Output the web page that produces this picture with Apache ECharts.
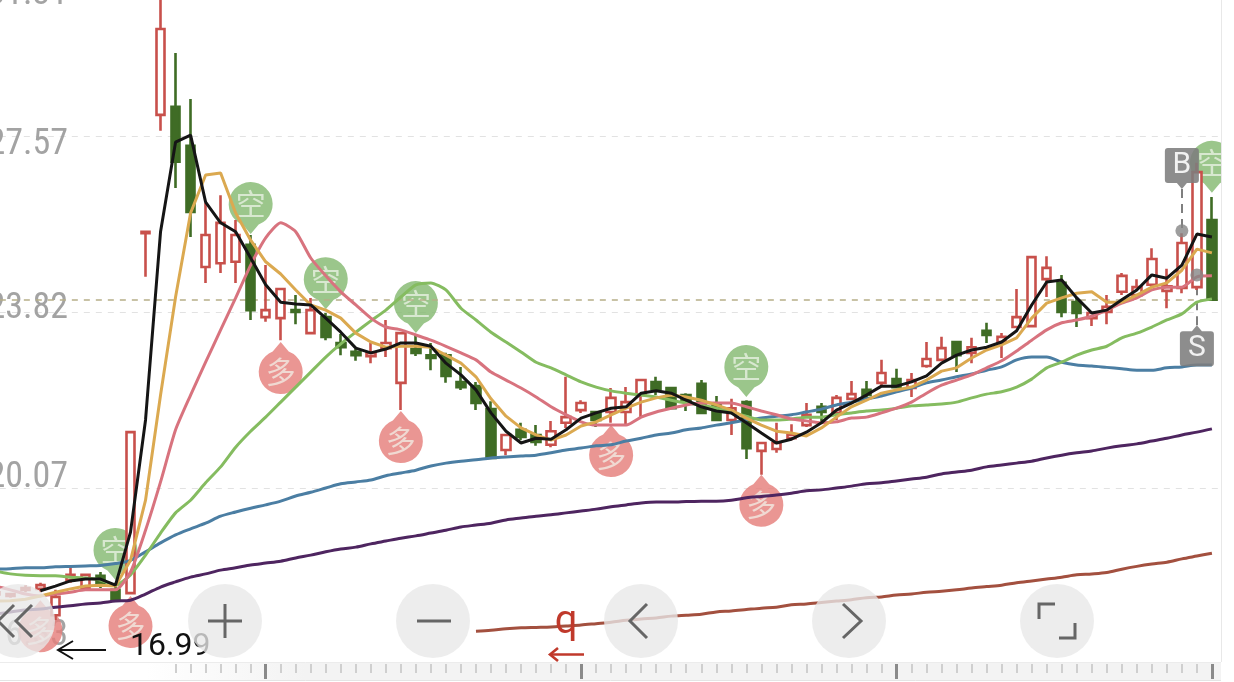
<!DOCTYPE html>
<html><head><meta charset="utf-8">
<style>html,body{margin:0;padding:0;background:#fff}#c{width:1234px;height:682px}</style>
<script src="https://cdn.jsdelivr.net/npm/echarts@6/dist/echarts.min.js"></script></head>
<body><div id="c"></div>
<script>
const opens=[17.80,17.77,17.90,17.92,17.36,18.11,17.94,18.20,17.90,17.83,25.50,28.02,28.19,27.36,24.78,24.86,24.89,25.25,23.71,23.69,23.86,23.37,23.71,23.16,22.97,22.88,23.05,22.31,23.03,22.90,22.90,22.33,22.24,21.75,20.88,21.31,21.20,20.99,21.46,21.73,21.69,21.69,21.69,22.05,22.33,22.20,22.05,22.29,21.84,21.52,21.90,20.86,20.90,21.13,21.41,21.80,21.67,21.97,22.16,22.31,22.39,22.20,22.67,22.80,23.18,22.95,23.42,23.18,23.50,23.52,24.52,24.44,24.03,23.69,23.82,24.25,24.18,24.40,24.27,24.33,24.35,25.78];
const closes=[17.85,17.81,17.94,18.00,17.75,18.22,18.22,18.05,17.68,21.26,25.53,29.85,27.02,25.95,25.46,25.72,25.46,23.86,23.86,24.31,23.82,23.86,23.29,23.07,22.90,22.95,23.16,23.37,22.95,22.84,22.46,22.22,21.88,20.71,21.20,21.16,21.05,21.28,21.58,21.88,21.52,21.99,21.90,22.37,22.18,21.77,21.94,21.67,21.52,21.77,20.92,21.03,21.03,21.20,21.63,21.69,21.99,22.07,22.05,22.52,22.22,22.37,22.82,23.05,22.90,23.07,23.33,23.29,23.71,24.99,24.76,23.82,23.80,23.80,23.93,24.59,24.35,24.95,24.37,25.29,26.80,24.08];
const lows=[17.70,17.73,17.85,17.85,17.26,18.05,17.94,17.94,17.66,17.80,24.57,27.68,26.46,25.42,24.44,24.65,24.44,23.65,23.61,23.22,23.56,23.35,23.22,22.90,22.78,22.73,22.86,21.73,22.88,22.58,22.31,22.16,21.73,20.69,20.77,21.09,20.97,20.94,21.35,21.67,21.37,21.46,21.43,21.58,22.05,21.75,21.71,21.65,21.50,21.20,20.69,20.35,20.82,21.09,21.37,21.48,21.52,21.94,21.94,22.26,22.20,22.01,22.63,22.78,22.54,22.73,23.16,22.84,23.48,23.50,24.14,23.71,23.50,23.52,23.56,24.18,24.16,24.35,23.90,24.22,24.29,24.06];
const highs=[17.95,17.83,18.00,18.05,17.90,18.39,18.24,18.28,18.05,21.28,25.55,30.57,29.34,28.36,26.14,26.31,25.78,25.46,24.82,24.31,24.18,24.12,23.80,23.35,23.03,23.16,23.65,23.39,23.33,23.16,22.95,22.65,22.33,21.92,21.22,21.46,21.41,21.50,22.44,21.94,21.71,22.20,22.22,22.39,22.44,22.22,22.09,22.37,22.03,21.97,21.94,21.05,21.46,21.43,21.88,21.88,22.05,22.35,22.35,22.80,22.61,22.52,23.18,23.29,23.20,23.27,23.59,23.37,24.31,25.01,25.01,24.61,24.12,23.82,24.18,24.65,24.52,25.18,24.74,25.50,27.00,26.27];

const maBlack=[null,null,null,17.88,17.98,18.09,18.13,18.13,18.00,19.13,21.52,25.53,27.44,27.59,26.16,25.72,25.53,24.97,24.40,24.03,23.99,23.97,23.69,23.39,23.05,22.95,23.03,23.16,23.16,23.09,22.73,22.48,22.16,21.67,21.28,21.03,21.13,21.11,21.31,21.56,21.67,21.77,21.80,22.09,22.14,22.09,21.94,21.80,21.71,21.67,21.46,21.24,21.03,21.11,21.26,21.46,21.73,21.88,22.05,22.24,22.24,22.33,22.46,22.73,22.90,23.01,23.07,23.18,23.42,23.97,24.46,24.50,24.12,23.80,23.86,24.08,24.29,24.61,24.54,24.82,25.48,25.42];
const maOrange=[17.66,17.67,17.70,17.77,17.85,17.92,17.98,18.00,17.98,18.53,19.81,22.05,24.14,25.93,26.74,26.78,25.93,25.35,24.89,24.63,24.29,23.97,23.86,23.69,23.37,23.18,23.07,23.09,23.09,23.07,22.90,22.73,22.44,21.97,21.60,21.35,21.20,21.09,21.20,21.39,21.48,21.63,21.77,21.90,21.99,22.05,22.01,21.94,21.84,21.73,21.56,21.41,21.28,21.24,21.18,21.35,21.58,21.80,21.94,22.09,22.16,22.22,22.37,22.56,22.63,22.84,23.01,23.12,23.27,23.69,24.01,24.12,24.22,24.25,24.03,24.03,24.18,24.35,24.44,24.71,25.16,25.08];
const maPink=[17.98,17.90,17.81,17.77,17.81,17.85,17.90,17.90,17.90,18.28,19.17,20.20,21.31,22.05,22.75,23.44,24.12,24.82,25.40,25.72,25.53,24.97,24.59,24.25,23.97,23.69,23.50,23.44,23.33,23.22,23.09,22.95,22.80,22.54,22.37,22.20,22.01,21.80,21.63,21.48,21.41,21.41,21.41,21.58,21.69,21.77,21.84,21.88,21.88,21.88,21.80,21.71,21.63,21.54,21.50,21.46,21.48,21.56,21.58,21.67,21.77,21.90,22.09,22.26,22.37,22.48,22.63,22.78,22.99,23.22,23.44,23.59,23.65,23.73,23.86,24.01,24.12,24.29,24.35,24.35,24.57,24.59];
const maGreen=[18.30,18.24,18.21,18.20,18.20,18.17,18.15,18.11,18.00,18.22,18.64,19.11,19.54,19.81,20.18,20.52,20.94,21.28,21.58,21.90,22.22,22.54,22.86,23.14,23.39,23.63,23.86,24.14,24.40,24.44,24.29,23.90,23.65,23.39,23.18,22.97,22.75,22.63,22.48,22.33,22.22,22.14,22.09,22.05,22.01,21.94,21.88,21.84,21.77,21.69,21.60,21.52,21.52,21.54,21.58,21.58,21.63,21.67,21.71,21.73,21.77,21.82,21.84,21.86,21.90,21.99,22.07,22.12,22.22,22.39,22.63,22.75,22.90,23.01,23.09,23.27,23.37,23.50,23.65,23.78,24.03,24.10];
const maBlue=[18.34,18.35,18.37,18.37,18.39,18.40,18.41,18.42,18.46,18.53,18.71,18.90,19.07,19.20,19.32,19.47,19.56,19.64,19.71,19.79,19.90,19.98,20.07,20.16,20.20,20.24,20.33,20.39,20.45,20.54,20.60,20.64,20.67,20.71,20.73,20.75,20.77,20.82,20.88,20.92,20.97,20.99,21.07,21.13,21.20,21.24,21.31,21.35,21.41,21.46,21.52,21.56,21.60,21.63,21.69,21.75,21.84,21.90,21.97,22.03,22.12,22.20,22.31,22.37,22.44,22.50,22.58,22.65,22.80,22.86,22.86,22.75,22.69,22.67,22.64,22.61,22.58,22.58,22.63,22.65,22.69,22.69];
const maPurple=[17.38,17.43,17.47,17.49,17.53,17.56,17.60,17.62,17.66,17.68,17.81,17.96,18.07,18.17,18.24,18.32,18.37,18.43,18.47,18.51,18.58,18.64,18.71,18.77,18.81,18.88,18.94,19.00,19.05,19.11,19.17,19.24,19.28,19.32,19.39,19.43,19.47,19.50,19.54,19.58,19.62,19.67,19.71,19.75,19.77,19.77,19.78,19.79,19.79,19.81,19.86,19.89,19.92,19.96,20.01,20.03,20.07,20.11,20.16,20.18,20.22,20.26,20.30,20.37,20.41,20.45,20.52,20.56,20.60,20.64,20.71,20.77,20.82,20.86,20.92,20.97,21.01,21.07,21.13,21.20,21.26,21.33];
const maBrownVisible=[17.02,17.04,17.07,17.09,17.10,17.11,17.13,17.15,17.18,17.21,17.25,17.28,17.30,17.34,17.36,17.38,17.43,17.45,17.48,17.51,17.53,17.58,17.60,17.63,17.66,17.69,17.73,17.75,17.79,17.81,17.85,17.87,17.90,17.94,17.97,18.00,18.05,18.09,18.13,18.17,18.22,18.24,18.27,18.34,18.40,18.45,18.49,18.56,18.62,18.68];

const yTickLabels=['16.33','20.07','23.82','27.57','31.31'];
const lastPrice=24.08;
const kongIndex=[8,17,22,28,50,81];
const kongPrice=[18.11,25.48,23.88,23.37,22.01,26.36];
const duoIndex=[3,9,19,27,41,51];
const duoPrice=[17.68,17.77,23.18,21.71,21.41,20.35];
const buyPoint=[79,25.55,26.44];
const sellPoint=[80,24.61,23.54];

const N=opens.length;
const categories=opens.map((_,i)=>String(i));
const maBrown=Array(N-maBrownVisible.length).fill(null).concat(maBrownVisible);
const candleData=opens.map((o,i)=>[o,closes[i],lows[i],highs[i]]);

const pinDown='path://M-8 20.5A22 22 0 1 1 8 20.5L0 30Z';
const pinUp='path://M-8 -20.5A22 22 0 1 0 8 -20.5L0 -30Z';
const flagDown='path://M-14 0H14Q17 0 17 3V32Q17 35 14 35H5L0 41L-5 35H-14Q-17 35 -17 32V3Q-17 0 -14 0Z';
const flagUp='path://M-14 0H14Q17 0 17 -3V-32Q17 -35 14 -35H5L0 -41L-5 -35H-14Q-17 -35 -17 -32V-3Q-17 0 -14 0Z';

const maSeries=[[maBrown,'#a3503f',0.3],[maPurple,'#4e2560',0.3],[maBlue,'#4b7ea3',0.3],[maGreen,'#85bc60',0.2],[maPink,'#d8737e',0.2],[maOrange,'#dba950',0],[maBlack,'#151515',0]].map(([d,c,s],k)=>({
  type:'line',data:d,symbol:'none',silent:true,z:10+k,animation:false,smooth:s,
  lineStyle:{color:c,width:3},connectNulls:false
}));

function pinSeries(idx,price,sym,off,labelOff,color,text){
  return {type:'scatter',z:1,animation:false,silent:true,
    data:idx.map((x,i)=>[x,price[i]]),symbol:sym,symbolSize:[44,52],symbolOffset:[0,off],
    itemStyle:{color:color,opacity:0.82},
    label:{show:true,position:'inside',offset:[0,labelOff],formatter:text,color:'rgba(242,247,238,0.85)',fontSize:30,fontFamily:'"Noto Sans CJK SC"'}};
}
function flagSeries(pt,sym,off,labelOff,text){
  return {type:'scatter',z:30,animation:false,silent:true,
    data:[[pt[0],pt[2]]],symbol:sym,symbolSize:[34,41],symbolOffset:[0,off],
    itemStyle:{color:'#7d7d7d',opacity:0.88},
    label:{show:true,position:'inside',offset:[0,labelOff],formatter:text,color:'#fff',fontSize:30,fontFamily:'Roboto'}};
}

const majorTick=i=>i%21===18;
const btn=(cx)=>({type:'circle',z:100,silent:true,shape:{cx:cx,cy:621,r:37},style:{fill:'rgba(232,232,232,0.78)'}});
const ink=(pts)=>({type:'polyline',z:101,silent:true,shape:{points:pts},style:{stroke:'#666',lineWidth:3,fill:null}});
const blackInk=(pts)=>({type:'polyline',z:60,silent:true,shape:{points:pts},style:{stroke:'#111',lineWidth:2,fill:null}});
const redInk=(pts)=>({type:'polyline',z:60,silent:true,shape:{points:pts},style:{stroke:'#c0392b',lineWidth:2.6,fill:null}});

const labelFont='"Liberation Sans Narrow","Roboto Condensed",Roboto';
const tickStyle=(padding)=>({fontSize:36,color:'#a3a3a3',fontFamily:labelFont,padding:padding});

const option={
  animation:false,backgroundColor:'#fff',
  grid:{left:-12.17,top:-40,width:1231.6,height:704,containLabel:false,outerBoundsMode:'none'},
  xAxis:[
    {type:'category',data:categories,position:'bottom',boundaryGap:true,z:2,axisLine:{show:false},axisLabel:{show:false},splitLine:{show:false},
     axisTick:{show:true,alignWithLabel:true,length:9,interval:i=>i>=12,lineStyle:{color:'#cfcfcf',width:2}}},
    {type:'category',data:categories,position:'bottom',boundaryGap:true,z:3,axisLine:{show:false},axisLabel:{show:false},splitLine:{show:false},
     axisTick:{show:true,alignWithLabel:true,length:15,interval:majorTick,lineStyle:{color:'#8a8a8a',width:3}}}
  ],
  yAxis:{type:'value',min:16.32,max:31.32,interval:3.75,z:0,
    axisLine:{show:false},axisTick:{show:false},
    splitLine:{show:true,showMinLine:false,showMaxLine:false,lineStyle:{color:'#e2e2e2',type:[6,6],width:1}},
    axisLabel:{inside:true,margin:80.2,align:'right',hideOverlap:false,showMinLabel:true,showMaxLabel:true,
      formatter:(v,i)=>'{t'+i+'|'+yTickLabels[i]+'}',
      rich:{t0:tickStyle([0,0,56,0]),t1:tickStyle([0,0,20,0]),t2:tickStyle([0,0,6,0]),t3:tickStyle([18,0,0,0]),t4:tickStyle([70,0,0,0])}}},
  series:[
    pinSeries(kongIndex,kongPrice,pinDown,-26,-4,'#85ba72','空'),
    pinSeries(duoIndex,duoPrice,pinUp,26,4,'#e57f7b','多'),
    {type:'candlestick',z:5,animation:false,silent:true,data:candleData,barWidth:9,
     itemStyle:{color:'#ffffff',color0:'#3f6c25',borderColor:'#c8504b',borderColor0:'#3f6c25',borderWidth:2.6},
     markLine:{silent:true,symbol:'none',animation:false,label:{show:false},
       lineStyle:{color:'#b6ae88',type:[6,6],width:1.5},data:[{yAxis:lastPrice}]}},
    ...maSeries,
    {type:'scatter',z:29,animation:false,silent:true,data:[[buyPoint[0],buyPoint[1]],[sellPoint[0],sellPoint[1]]],symbolSize:13,
     itemStyle:{color:'#868686',opacity:0.8},
     markLine:{silent:true,symbol:'none',animation:false,label:{show:false},
       lineStyle:{color:'#7f7f7f',type:[9,6],width:2},
       data:[[{xAxis:String(buyPoint[0]),yAxis:buyPoint[2]},{xAxis:String(buyPoint[0]),yAxis:buyPoint[1]}],
             [{xAxis:String(sellPoint[0]),yAxis:sellPoint[2]},{xAxis:String(sellPoint[0]),yAxis:sellPoint[1]}]]}},
    flagSeries(buyPoint,flagDown,-20.5,-3,'B'),
    flagSeries(sellPoint,flagUp,20.5,3,'S')
  ],
  graphic:{elements:[
    {type:'rect',z:0,silent:true,shape:{x:0,y:663,width:1221,height:17},
      style:{fill:new echarts.graphic.LinearGradient(0,0,1,0,[{offset:0,color:'#ffffff'},{offset:0.12,color:'#ffffff'},{offset:0.25,color:'#f3f3f3'},{offset:1,color:'#f3f3f3'}])}},
    {type:'line',z:1,silent:true,shape:{x1:0,y1:662.5,x2:1221,y2:662.5},style:{stroke:'#ececec',lineWidth:1}},
    {type:'line',z:1,silent:true,shape:{x1:0,y1:680.5,x2:1221,y2:680.5},style:{stroke:'#e4e4e4',lineWidth:1}},
    {type:'rect',z:90,silent:true,shape:{x:1222,y:0,width:12,height:682},style:{fill:'#fff'}},
    {type:'line',z:91,silent:true,shape:{x1:1221.5,y1:0,x2:1221.5,y2:662},style:{stroke:'#e8e8e8',lineWidth:1}},
    {type:'text',z:60,silent:true,style:{x:130,y:647,text:'16.99',fill:'#111',font:'32px Roboto',verticalAlign:'middle'}},
    blackInk([[106,650],[58,650]]),blackInk([[73,641],[58,650],[73,659]]),
    {type:'text',z:60,silent:true,style:{x:566,y:623,text:'q',fill:'#c0392b',font:'40px Roboto',align:'center',verticalAlign:'middle'}},
    redInk([[584,654.5],[550,654.5]]),redInk([[558,648],[550,654.5],[558,661]]),
    btn(18),btn(225),btn(433),btn(641),btn(849),btn(1057),
    ink([[14,605],[-2,621],[14,637]]),ink([[32,605],[16,621],[32,637]]),
    ink([[208,621],[242,621]]),ink([[225,604],[225,638]]),
    ink([[417,621],[451,621]]),
    ink([[647,604],[630,621],[647,638]]),
    ink([[843,604],[861,621],[843,638]]),
    ink([[1055,604],[1039,604],[1039,619]]),ink([[1059,638],[1075,638],[1075,623]])
  ]}
};
echarts.init(document.getElementById('c'),null,{renderer:'canvas'}).setOption(option);
</script></body></html>
